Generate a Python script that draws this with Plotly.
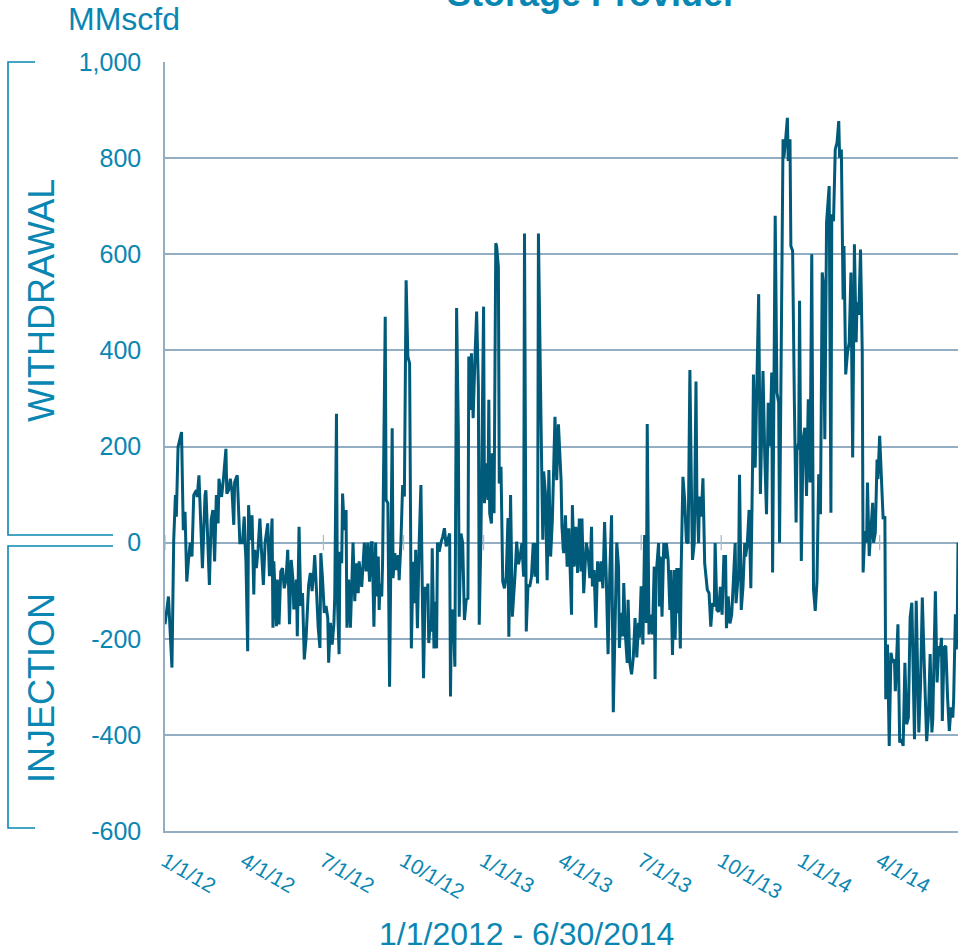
import pandas as pd
import plotly.graph_objects as go

# ---------------- data ----------------
day_offsets = [
    0, 4, 6, 8, 10, 12, 13, 15, 19, 21, 23, 25, 27, 29, 31, 33, 36, 37, 39, 41, 43, 46, 47, 51, 53, 55, 57, 59, 61, 62,
    65, 67, 70, 71, 73, 75, 77, 79, 80, 83, 85, 86, 89, 91, 93, 95, 96, 98, 100, 102, 103, 105, 107,
    109, 111, 113, 115, 118, 120, 123, 124, 125, 128, 129, 131, 133, 135, 137, 139, 141, 143, 145, 147, 148, 151, 152,
    154, 156, 158, 160, 162, 165, 167, 169, 171, 172, 174, 176, 178, 179, 181, 183, 185, 187, 188, 190, 192, 194, 195,
    197, 198, 200, 201, 203, 204, 206, 208, 209, 211, 213, 215, 216, 218, 220, 222, 223,
    226, 229, 231, 233, 235, 237, 238, 240, 242, 243, 245, 246, 247, 249, 250, 253, 254, 256, 258, 260, 261, 262, 264,
    266, 268, 269, 271, 273, 275, 277, 279, 281, 283, 285, 287, 288, 290, 292, 294, 296, 297, 299, 301, 302, 303, 305,
    306, 307, 309, 310, 312, 313, 315, 317, 319, 321, 323, 325, 327, 328, 329, 331, 333,
    335, 337, 338, 340, 342, 344, 346, 348, 349, 351, 352, 354, 356, 358, 360, 361, 363, 366, 367, 369, 371, 372, 373,
    375, 376, 378, 380, 381, 383, 384, 386, 388, 390, 392, 394, 395, 397, 399, 402, 404, 406, 408, 410, 412, 413, 415,
    417, 419, 421, 423, 425, 426, 428, 429, 432, 434, 435, 437, 439, 441, 443, 445, 448,
    450, 452, 453, 455, 456, 458, 460, 462, 464, 467, 468, 470, 472, 474, 476, 478, 479, 481, 484, 486, 488, 490, 491,
    493, 495, 497, 499, 501, 503, 505, 507, 509, 511, 513, 515, 517, 519, 521, 522, 524, 526, 527, 529, 531, 532, 534,
    536, 538, 540, 542, 544, 545, 547, 549, 551, 553, 554, 556, 558, 560, 562, 563, 564,
    565, 567, 568, 569, 571, 573, 575, 576, 578, 580, 581, 583, 585, 586, 588, 589, 590, 592, 593, 595, 597, 599, 601,
    603, 605, 606, 608, 610, 611, 613, 614, 616, 618, 620, 623, 625, 627, 629, 631, 632, 634, 636, 638, 640, 642, 644,
    645, 647, 649, 651, 653, 655, 656, 659, 660, 662, 664, 666, 667, 669, 671, 673,
    675, 676, 678, 680, 682, 684, 687, 689, 691, 693, 695, 697, 698, 701, 703, 705, 706, 710, 711, 713, 715, 716, 718,
    719, 721, 723, 724, 725, 726, 728, 729, 731, 733, 735, 737, 739, 741, 743, 745, 747, 749, 751, 753, 755, 756, 758,
    760, 763, 765, 766, 768, 770, 772, 774, 775, 777, 779, 780, 782, 784, 786, 788, 790, 792,
    794, 795, 797, 799, 800, 801, 802, 804, 806, 807, 809, 811, 813, 814, 816, 818, 819, 821, 823, 825, 827, 828, 830,
    832, 834, 836, 838, 839, 842, 844, 846, 848, 850, 852, 854, 856, 858, 861, 863, 866, 868, 870, 872, 875, 877, 879,
    881, 882, 885, 887, 889, 890, 892, 893, 895, 897, 899, 901, 903, 905, 906, 908, 909, 910, 911,
]

mmscfd = [
    -170, -112, -188, -260, 5, 99, 54, 199, 230, 26, 64, -81, -36, 0, -29, 99, 109, 95, 140, 54, -53, 99, 109, -88, 47, 68, -39, 99, 40, 133,
    95, 130, 195, 102, 109, 133, 106, 37, 126, 140, 40, 0, 0, 54, -39, -226, 78, 5, 57, -108, -15, -53, -12,
    50, -22, -88, 0, 40, -70, 50, -177, -39, -174, -77, -170, -60, -53, -95, -77, -15, -170, -36, -77, -139, -77, -195,
    33, -132, -105, -243, -201, -88, -63, -101, -57, -26, -98, -177, -219, -22, -77, -146, -132, -157, -250, -167, -212, -170, -112,
    268, -112, -232, -19, -43, 102, 26, 68, -177, -77, -177, -63, 0, -122, -43, -105, -39,
    -92, 0, -60, 0, -81, 0, 0, -175, 0, -112, -29, -140, -85, -112, -36, 470, 89, 82, -300, 89, 238, -74, -22,
    -57, -26, -78, 0, 120, 96, 546, 387, 373, -220, -40, -126, -15, -178, 0, 120, -154, -282, -92, -116, -85, -209, -161,
    -185, -12, -220, -123, -220, 0, -19, 0, 12, 30, -8, 6, 19, -320, -147, -140, -258,
    488, 227, -154, 19, -1, -161, -119, -116, 387, 276, 394, 259, 380, 481, 325, -171, 19, 491, 82, 165, 89, 297, 61,
    40, 186, 61, 623, 616, 574, 123, 158, -81, -95, -71, 51, -196, 99, -154, -71, 2, -45, -29, -1, -71, 643, -185,
    -88, -92, -71, -1, -71, -1, -85, 643, 248, 6, 148, 103, -78, 151, -29, 47, 262,
    130, 246, 209, 130, 33, -22, 57, -50, 30, -150, 78, -50, 33, -63, 50, -60, 50, -105, 0, -22, -74, 33, -91,
    -57, -177, -39, -81, -39, -95, 43, -77, -232, -63, 57, -353, -188, 0, -50, -219, -146, -195, -84, -195, -250, -119, -250,
    -274, -239, -157, -239, -167, -198, -91, -212, 16, -167, 247, -191, -150, -191, -50, -284, -53,
    -50, -1, -133, -29, -154, -1, -33, -1, -36, -140, -57, -234, -57, -202, -53, -147, -53, -220, -53, 137, 89, 2, -1,
    359, 75, -36, -1, 335, 103, -1, 96, 54, 134, -43, -98, -105, -175, -126, -133, -1, -140, -144, -92, -150, -29, -29,
    -178, -112, -168, -150, -78, -1, -126, -57, 141, -140, -92, -1, -29, -1, 68, -95,
    160, 350, 156, 316, 517, 101, 357, 180, 59, 291, 201, 354, -62, 680, 312, 291, 0, 839, 801, 839, 884, 794, 839,
    617, 607, 295, 205, 42, 191, 208, 503, -38, 215, 239, 97, 298, 125, 600, -97, -142, -80, 142, 59, 562, 544, 215,
    666, 742, 62, 683, 669, 818, 832, 877, 801, 818, 506, 617, 350, 395, 416, 562, 177, 621,
    417, 500, 474, 610, 509, 395, -62, 24, 0, 125, -28, 21, 83, 0, 21, 173, 132, 222, 132, 49, 55, -326, -212,
    -423, -229, -250, -243, -309, -170, -416, -409, -423, -250, -378, -364, -156, -125, -409, -121, -395, -295, -114, -239, -413, -361, -232,
    -395, -368, -101, -291, -215, -236, -198, -371, -218, -215, -322, -392, -343, -364, -326, -149, -222, -201, 0,
]

tick_dates = ["2012-01-01", "2012-04-01", "2012-07-01", "2012-10-01", "2013-01-01",
              "2013-04-01", "2013-07-01", "2013-10-01", "2014-01-01", "2014-04-01"]
tick_labels = ["1/1/12", "4/1/12", "7/1/12", "10/1/12", "1/1/13",
               "4/1/13", "7/1/13", "10/1/13", "1/1/14", "4/1/14"]
y_ticks = [-600, -400, -200, 0, 200, 400, 600, 800, 1000]
y_tick_labels = ["-600", "-400", "-200", "0", "200", "400", "600", "800", "1,000"]

title_text = "Storage Provider"
unit_text = "MMscfd"
x_title = "1/1/2012 - 6/30/2014"
upper_label = "WITHDRAWAL"
lower_label = "INJECTION"

# ---------------- styling ----------------
TEXT = "#0a86b3"
LINE = "#005a79"
GRID = "#93aec2"
FONT = "Liberation Sans, Arial, sans-serif"

W, H = 958, 951
L, R, T, B = 165, 0, 62, 120
PW, PH = W - L - R, H - T - B


def px(x):
    return (x - L) / PW


def py(y):
    return (H - B - y) / PH


start = pd.Timestamp("2012-01-01")
dates = start + pd.to_timedelta(day_offsets, unit="D")

fig = go.Figure()

# small tick marks on the zero line
fig.add_trace(go.Scatter(
    x=tick_dates, y=[0] * len(tick_dates), mode="markers",
    marker=dict(symbol="line-ns", size=11, line=dict(width=1.3, color="#a8bccb")),
    hoverinfo="skip", showlegend=False,
))

fig.add_trace(go.Scatter(
    x=dates, y=mmscfd, mode="lines",
    line=dict(color=LINE, width=3),
    showlegend=False,
))

fig.update_layout(
    width=W, height=H, autosize=False,
    margin=dict(l=L, r=R, t=T, b=B, pad=0),
    paper_bgcolor="white", plot_bgcolor="white",
    font=dict(family=FONT, color=TEXT),
    showlegend=False,
    xaxis=dict(
        type="date",
        range=["2012-01-01", "2014-06-30"],
        tickmode="array", tickvals=tick_dates, ticktext=tick_labels,
        tickangle=30,
        tickfont=dict(family=FONT, size=21, color=TEXT),
        showgrid=False, zeroline=False,
        showline=True, linecolor=GRID, linewidth=1.5,
        ticks="",
        ticklabelstandoff=8,
    ),
    yaxis=dict(
        range=[-600, 1000],
        tickmode="array", tickvals=y_ticks, ticktext=y_tick_labels,
        tickfont=dict(family=FONT, size=25, color=TEXT),
        showgrid=True, gridcolor=GRID, gridwidth=1.5,
        zeroline=False,
        showline=True, linecolor=GRID, linewidth=1.5,
        ticks="",
        ticklabelstandoff=17,
    ),
)

annotations = [
    dict(text="<b>" + title_text + "</b>", x=px(592), y=py(-6), xref="paper", yref="paper",
         xanchor="center", yanchor="middle", showarrow=False,
         font=dict(family=FONT, size=36, color=TEXT)),
    dict(text=unit_text, x=px(66), y=py(19), xref="paper", yref="paper",
         xanchor="left", yanchor="middle", showarrow=False,
         font=dict(family=FONT, size=32, color=TEXT)),
    dict(text=x_title, x=px(526), y=py(934), xref="paper", yref="paper",
         xanchor="center", yanchor="middle", showarrow=False,
         font=dict(family=FONT, size=32, color=TEXT)),
    dict(text=upper_label, x=px(41), y=py(301), xref="paper", yref="paper",
         xanchor="center", yanchor="middle", showarrow=False, textangle=-90,
         font=dict(family=FONT, size=36, color=TEXT)),
    dict(text=lower_label, x=px(41), y=py(688), xref="paper", yref="paper",
         xanchor="center", yanchor="middle", showarrow=False, textangle=-90,
         font=dict(family=FONT, size=36, color=TEXT)),
]
fig.update_layout(annotations=annotations)


def bracket(points):
    d = "M " + " L ".join(f"{px(a):.5f},{py(b):.5f}" for a, b in points)
    return dict(type="path", path=d, xref="paper", yref="paper",
                line=dict(color=TEXT, width=1.6))


fig.update_layout(shapes=[
    bracket([(35, 62), (8, 62), (8, 535), (113, 535)]),
    bracket([(113, 546), (8, 546), (8, 828), (35, 828)]),
])

post = (
    "document.body.style.margin='0';"
    "document.body.style.padding='0';"
    "document.body.style.overflow='hidden';"
    "document.documentElement.style.overflow='hidden';"
    "var gd=document.getElementById('{plot_id}');"
    "Plotly.relayout(gd,{width:958,height:951,autosize:false});"
)

fig.write_html("out.html", config={"responsive": False, "displayModeBar": False},
               post_script=post)
